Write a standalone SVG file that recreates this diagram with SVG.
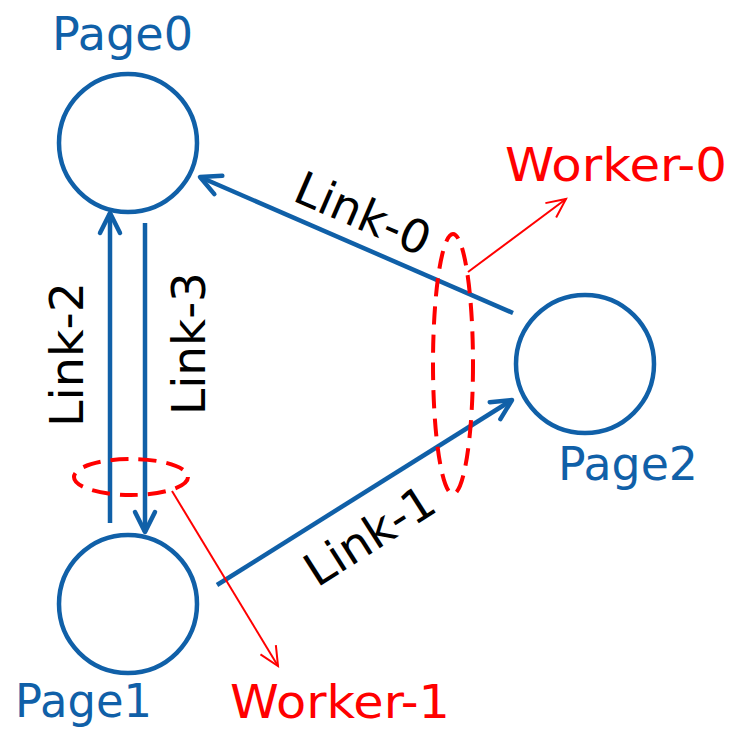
<svg xmlns="http://www.w3.org/2000/svg" width="730" height="729" viewBox="0 0 730 729">
<style>
.node{fill:none;stroke:#1060a8;stroke-width:4.5}
.link{fill:none;stroke:#1060a8;stroke-width:4.5}
.wk{fill:none;stroke:#ff0000;stroke-width:4;stroke-dasharray:18 10}
.wa{fill:none;stroke:#ff0000;stroke-width:2}
.pl{font-family:"DejaVu Sans","Verdana",sans-serif;font-size:46px;fill:#1060a8}
.wl{font-family:"DejaVu Sans","Verdana",sans-serif;font-size:46px;fill:#ff0000}
.ll{font-family:"DejaVu Sans","Verdana",sans-serif;font-size:46px;fill:#000000}
</style>
<defs>
<marker id="ab" viewBox="-30 -15 35 30" markerWidth="35" markerHeight="30" refX="0" refY="0" orient="auto" markerUnits="userSpaceOnUse">
<path d="M-20,-10 L0,0 L-20,10" fill="none" stroke="#1060a8" stroke-width="4.5" stroke-linecap="round" stroke-linejoin="round"/>
</marker>
<marker id="ar" viewBox="-25 -12 30 24" markerWidth="30" markerHeight="24" refX="0" refY="0" orient="auto" markerUnits="userSpaceOnUse">
<path d="M-19,-9 L0,0 L-19,9" fill="none" stroke="#ff0000" stroke-width="2"/>
</marker>
</defs>
<g id="page0"><circle class="node" cx="128" cy="143" r="69"/><text class="pl" x="52" y="50" textLength="141" lengthAdjust="spacingAndGlyphs">Page0</text></g>
<g id="page1"><circle class="node" cx="128" cy="604" r="69"/><text class="pl" x="15" y="717" textLength="137" lengthAdjust="spacingAndGlyphs">Page1</text></g>
<g id="page2"><circle class="node" cx="585" cy="364" r="69"/><text class="pl" x="558" y="480" textLength="140" lengthAdjust="spacingAndGlyphs">Page2</text></g>
<g id="connectors">
<line class="link" x1="513" y1="313" x2="200" y2="177" marker-end="url(#ab)"/>
<line class="link" x1="217" y1="585" x2="512" y2="400" marker-end="url(#ab)"/>
<line class="link" x1="110" y1="523" x2="110" y2="213" marker-end="url(#ab)"/>
<line class="link" x1="145" y1="223" x2="145" y2="532" marker-end="url(#ab)"/>
<text class="ll" transform="translate(291,200) rotate(23.4)" textLength="143" lengthAdjust="spacingAndGlyphs">Link-0</text>
<text class="ll" transform="translate(317,588) rotate(-32.5)" textLength="145" lengthAdjust="spacingAndGlyphs">Link-1</text>
<text class="ll" transform="translate(83,427) rotate(-90)" textLength="145" lengthAdjust="spacingAndGlyphs">Link-2</text>
<text class="ll" transform="translate(205,415) rotate(-90)" textLength="143" lengthAdjust="spacingAndGlyphs">Link-3</text>
</g>
<g id="worker0">
<ellipse class="wk" cx="453" cy="364" rx="20" ry="130"/>
<line class="wa" x1="468" y1="272" x2="566" y2="199" marker-end="url(#ar)"/>
<text class="wl" x="505" y="181" textLength="222" lengthAdjust="spacingAndGlyphs">Worker-0</text>
</g>
<g id="worker1">
<ellipse class="wk" cx="131" cy="477" rx="57" ry="18"/>
<line class="wa" x1="172" y1="491" x2="278" y2="666" marker-end="url(#ar)"/>
<text class="wl" x="230" y="718" textLength="220" lengthAdjust="spacingAndGlyphs">Worker-1</text>
</g>
</svg>
